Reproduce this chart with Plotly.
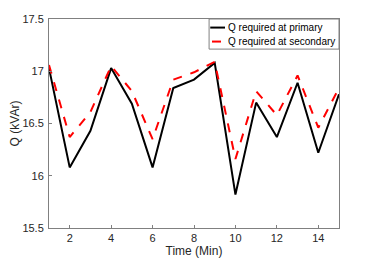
import plotly.graph_objects as go

time_min = list(range(1, 16))
q_primary = [17.03, 16.08, 16.43, 17.03, 16.69, 16.08, 16.84, 16.92, 17.08, 15.82, 16.70, 16.37, 16.89, 16.22, 16.78]
q_secondary = [17.06, 16.37, 16.61, 17.05, 16.81, 16.35, 16.92, 16.99, 17.09, 16.16, 16.81, 16.58, 16.96, 16.46, 16.84]
y_ticks = [15.5, 16, 16.5, 17, 17.5]
x_ticks = [2, 4, 6, 8, 10, 12, 14]
series_names = ["Q required at primary", "Q required at secondary"]

fig = go.Figure()
fig.add_trace(go.Scatter(x=time_min, y=q_primary, mode="lines", name=series_names[0],
                         line=dict(color="black", width=2)))
fig.add_trace(go.Scatter(x=time_min, y=q_secondary, mode="lines", name=series_names[1],
                         line=dict(color="#ff0000", width=2, dash="dash")))

# custom compact legend (MATLAB style)
fig.add_shape(type="rect", xref="paper", yref="paper", x0=0.552, x1=1.0, y0=0.856, y1=1.0,
              line=dict(color="#808080", width=1), fillcolor="white", layer="above")
fig.add_shape(type="line", xref="paper", yref="paper", x0=0.556, x1=0.607, y0=0.959, y1=0.959,
              line=dict(color="black", width=2), layer="above")
fig.add_shape(type="line", xref="paper", yref="paper", x0=0.562, x1=0.607, y0=0.892, y1=0.892,
              line=dict(color="#ff0000", width=2, dash="dash"), layer="above")
for name, yy in zip(series_names, [0.959, 0.892]):
    fig.add_annotation(x=0.609, y=yy, xref="paper", yref="paper", text=name, showarrow=False,
                       xanchor="left", yanchor="middle", font=dict(size=10, color="black"))

axis_common = dict(showline=True, linecolor="#808080", linewidth=1, mirror=True,
                   ticks="inside", ticklen=3, tickcolor="#808080", showgrid=False, zeroline=False,
                   automargin=False, tickfont=dict(size=11, color="#262626"))
fig.update_layout(
    width=366, height=254,
    margin=dict(l=41, r=35, t=11, b=34),
    paper_bgcolor="white", plot_bgcolor="white",
    font=dict(family="Liberation Sans, Arial, sans-serif", color="#262626"),
    showlegend=False,
    xaxis=dict(range=[1, 15], tickvals=x_ticks,
               title=dict(text="Time (Min)", font=dict(size=12), standoff=2), **axis_common),
    yaxis=dict(range=[15.5, 17.5], tickvals=y_ticks, ticktext=[str(v) for v in y_ticks],
               ticklabelstandoff=2,
               title=dict(text="Q (kVAr)", font=dict(size=12), standoff=8), **axis_common),
)
fig.write_html("out.html")
